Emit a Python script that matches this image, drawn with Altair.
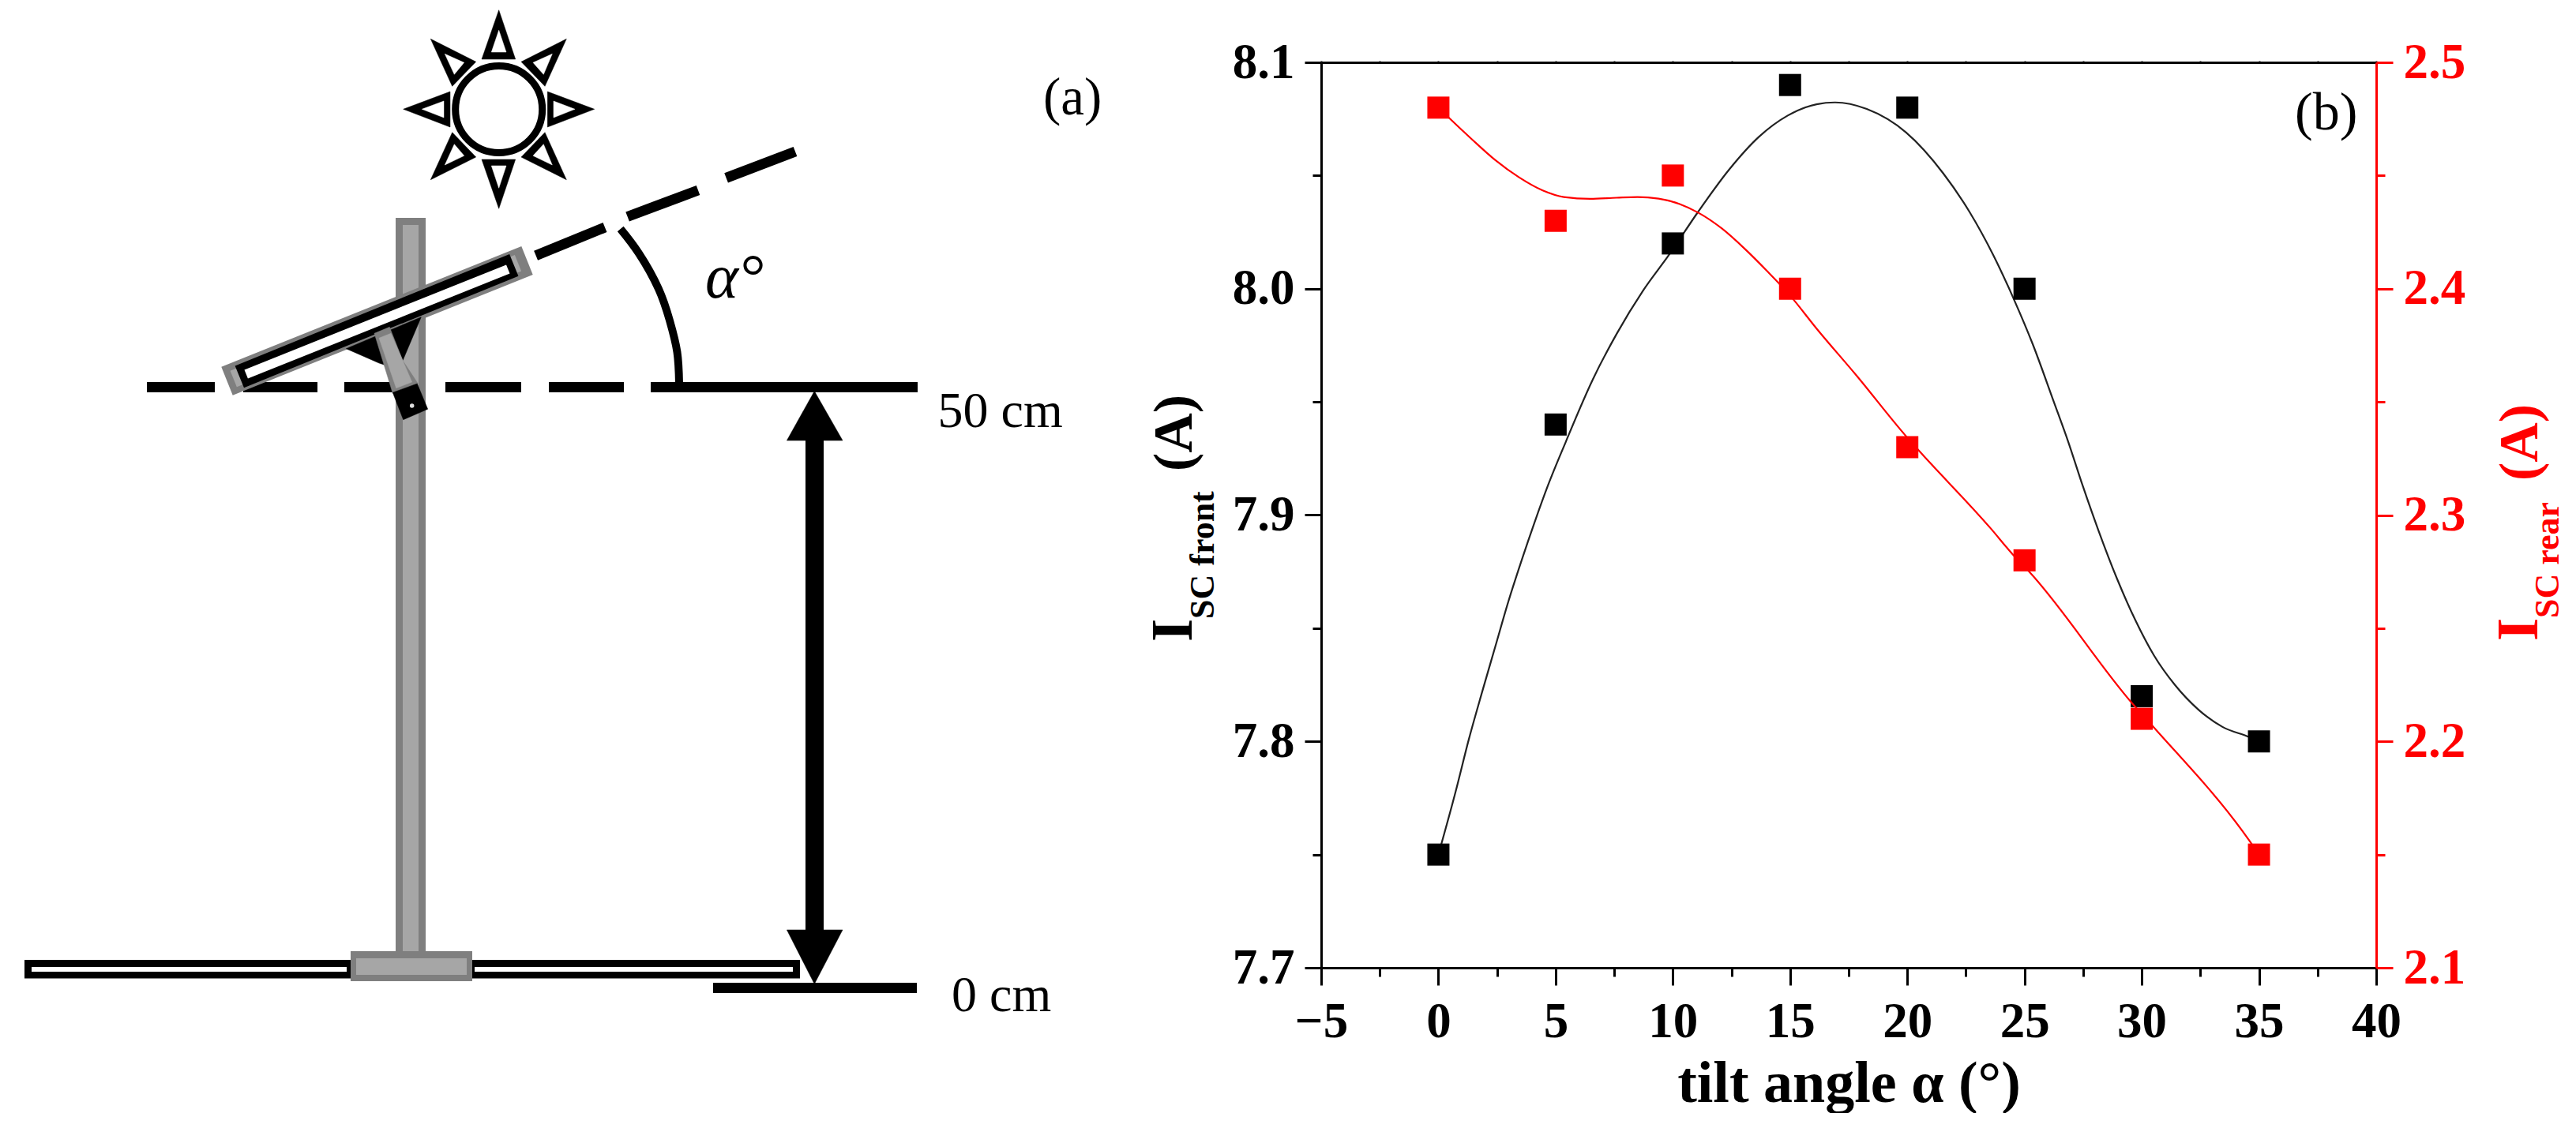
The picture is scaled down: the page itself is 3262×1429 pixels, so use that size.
import altair as alt
import pandas as pd

# ---------- panel (b) values ----------
tilt = [0, 5, 10, 15, 20, 25, 30, 35]
isc_front = [7.75, 7.94, 8.02, 8.09, 8.08, 8.00, 7.82, 7.80]
isc_rear = [2.48, 2.43, 2.45, 2.40, 2.33, 2.28, 2.21, 2.15]

front_curve_x = [0, 0.74, 1.30, 1.87, 2.43, 2.99, 3.55, 4.11, 4.67, 5.44, 6.59, 7.60, 8.72, 9.84, 11.08, 12.43, 13.66,
                 14.90, 16.13, 16.92, 18.27, 19.95, 21.53, 22.65, 23.66, 24.56, 25.35, 26.25, 26.86, 27.48, 28.16,
                 28.94, 29.73, 30.52, 31.41, 32.42, 33.43, 34.56, 35]
front_curve_y = [7.75, 7.778, 7.801, 7.822, 7.842, 7.862, 7.880, 7.897, 7.913, 7.9325, 7.960, 7.980, 7.999, 8.015,
                 8.034, 8.053, 8.067, 8.0765, 8.0815, 8.0823, 8.0794, 8.069, 8.051, 8.034, 8.015, 7.995, 7.9755, 7.950,
                 7.9325, 7.913, 7.893, 7.872, 7.8535, 7.838, 7.825, 7.814, 7.8065, 7.802, 7.80]
rear_curve_x = [0, 0.46, 1.42, 2.43, 3.44, 4.45, 5.35, 6.47, 7.60, 8.49, 9.39, 10.29, 11.08, 12.09, 13.10, 14.0, 15,
                16.13, 17.82, 20, 20.5, 23.55, 24.5, 25.2, 29.62, 30.53, 34.6, 35]
rear_curve_y = [2.48, 2.4754, 2.4661, 2.4568, 2.4492, 2.4434, 2.4405, 2.4397, 2.4402, 2.4405, 2.4398, 2.4374, 2.4336,
                2.4266, 2.4173, 2.408, 2.397, 2.3824, 2.3618, 2.3342, 2.3284, 2.2942, 2.2826, 2.275, 2.2165, 2.206,
                2.156, 2.15]

x_ticks = [-5, -2.5, 0, 2.5, 5, 7.5, 10, 12.5, 15, 17.5, 20, 22.5, 25, 27.5, 30, 32.5, 35, 37.5, 40]
front_ticks = [7.7, 7.75, 7.8, 7.85, 7.9, 7.95, 8.0, 8.05, 8.1]
rear_ticks = [2.1, 2.15, 2.2, 2.25, 2.3, 2.35, 2.4, 2.45, 2.5]

# ---------- panel (a) shapes, in picture pixels ----------
GRAY_D, GRAY_L = "#7f7f7f", "#a6a6a6"
dash_h = [(186, 272), (308, 402), (436, 532), (564, 660), (695, 790), (824, 1162)]
dash_tilt = [((678.6, 323.7), (766, 288)), ((794.6, 274.5), (884, 241)), ((919.6, 225.4), (1007, 192))]
arc_x = [785.7, 809, 834, 848, 857.5, 860]
arc_y = [290, 321, 366, 406, 446, 486]

sun_center = (631.7, 138.5)
rays_outer = [
    [(631.7, 12.7), (652.7, 75), (610, 75)],
    [(631.7, 264.3), (652.7, 202), (610, 202)],
    [(510.7, 138.3), (570, 116), (570, 161)],
    [(752.7, 138.3), (693.3, 116), (693.3, 161)],
    [(717.3, 49.3), (660, 78.3), (690, 109.3)],
    [(545.3, 49.3), (602.7, 78.3), (572.7, 109.3)],
    [(545.3, 227.7), (602.7, 199), (572.7, 167.7)],
    [(717.3, 227.7), (660, 199), (690, 167.7)],
]
rays_inner = [
    [(631.7, 38.3), (641, 66), (622.3, 66)],
    [(631.7, 238.3), (641, 210), (622.3, 210)],
    [(534.3, 138.3), (562, 128), (562, 149)],
    [(728, 138.3), (701, 128), (701, 149)],
    [(699.3, 68.3), (675, 79.3), (688.3, 94.3)],
    [(563.3, 68.3), (587.7, 79.3), (575.3, 94.3)],
    [(563.3, 209), (587.7, 197.3), (575.3, 182.7)],
    [(699.3, 209), (675, 197.3), (688.3, 182.7)],
]
module_outer = ((287.5, 482.7), (667.5, 330))
module_light = ((295.7, 480), (656, 333.3))
module_black = ((303.3, 477.4), (650.8, 335.8))
module_white = ((311.7, 474), (643.3, 341))
bracket_black = [(438.3, 441.7), (533.3, 401.7), (510, 456.7), (490, 463.3), (480, 460)]
arm_dark = [(474, 422.3), (493.3, 414.3), (510, 456.7), (529.3, 486), (497.3, 498.3)]
arm_light = [(480, 428.3), (495, 422.3), (510, 456.7), (521.7, 484), (501.7, 491.7)]
hinge = [(497.3, 497.3), (528.3, 486), (541.7, 518.3), (510.7, 531.7)]
hinge_dot = (521.7, 514)
head_up = [(1031.3, 495.5), (1067, 558), (996.4, 558)]
head_down = [(1031.3, 1246.5), (1067, 1178), (996.4, 1178)]

H = 1147
W1 = 1665
PLOT_W = 1336
FONT = "Liberation Serif"

sx = alt.Scale(domain=[8, 8 + W1], nice=False, zero=False)
sy = alt.Scale(domain=[79 + H, 79], nice=False, zero=False)
PX = alt.X("x:Q", scale=sx, axis=None)
PY = alt.Y("y:Q", scale=sy, axis=None)


def rect(x0, x1, y0, y1, color):
    d = pd.DataFrame({"x": [x0], "x2": [x1], "y": [y0], "y2": [y1]})
    return alt.Chart(d).mark_rect(color=color, stroke=None).encode(PX, alt.X2("x2:Q"), PY, alt.Y2("y2:Q"))


def seg(pts, color, width, interpolate="linear"):
    d = pd.DataFrame({"x": [p[0] for p in pts], "y": [p[1] for p in pts], "i": list(range(len(pts)))})
    return alt.Chart(d).mark_line(color=color, strokeWidth=width, strokeCap="butt", interpolate=interpolate).encode(
        PX, PY, order="i:Q")


def poly(pts, color):
    closed = list(pts) + [pts[0]]
    d = pd.DataFrame({"x": [p[0] for p in closed], "y": [p[1] for p in closed], "i": list(range(len(closed)))})
    return alt.Chart(d).mark_line(color=color, fill=color, stroke=color, strokeWidth=0.5).encode(PX, PY, order="i:Q")


def label(x, y, s, size, style="normal"):
    d = pd.DataFrame({"x": [x], "y": [y], "t": [s]})
    return alt.Chart(d).mark_text(font=FONT, fontSize=size, fontStyle=style, align="left", baseline="alphabetic",
                                  color="black").encode(PX, PY, text="t:N")


parts = [rect(8, 10, 8, 10, "white")]
parts += [rect(a, b, 484, 497, "black") for a, b in dash_h]
parts += [seg(s, "black", 13) for s in dash_tilt]
parts.append(seg(list(zip(arc_x, arc_y)), "black", 10, "natural"))
# ground module and post
parts += [rect(31, 1013, 1216, 1239.5, "black"), rect(40, 439, 1225, 1231, "white"), rect(601, 1004, 1225, 1231, "white")]
parts += [rect(501, 539, 276, 1210, GRAY_D), rect(510, 530, 285, 1210, GRAY_L)]
parts += [rect(444, 598, 1205, 1243, GRAY_D), rect(451, 591, 1214, 1235, GRAY_L)]
# tilted module
parts += [seg(module_outer, GRAY_D, 38.7), seg(module_light, GRAY_L, 22), seg(module_black, "black", 30),
          seg(module_white, "white", 12)]
parts += [poly(bracket_black, "black"), poly(arm_dark, GRAY_D), poly(arm_light, GRAY_L), poly(hinge, "black")]
parts.append(alt.Chart(pd.DataFrame({"x": [hinge_dot[0]], "y": [hinge_dot[1]]})).mark_point(
    filled=True, color="#dddddd", size=30, opacity=1).encode(PX, PY))
# sun
parts.append(alt.Chart(pd.DataFrame({"x": [sun_center[0]], "y": [sun_center[1]]})).mark_point(
    shape="circle", filled=False, color="black", strokeWidth=9, size=12100, opacity=1).encode(PX, PY))
for o, i in zip(rays_outer, rays_inner):
    parts += [poly(o, "black"), poly(i, "white")]
# height arrow
parts += [rect(1020, 1043, 555, 1181, "black"), poly(head_up, "black"), poly(head_down, "black")]
parts.append(rect(903, 1161, 1245, 1258, "black"))
# texts
parts += [label(1187.5, 541, "50 cm", 64), label(1205, 1281, "0 cm", 64), label(1321, 145, "(a)", 67),
          label(893, 377, "α°", 80, "italic")]

left = alt.layer(*parts).properties(width=W1, height=H)

# ---------- panel (b) ----------
XS = alt.Scale(domain=[-5, 40], nice=False, zero=False)
FS = alt.Scale(domain=[7.7, 8.1], nice=False, zero=False)
RS = alt.Scale(domain=[2.1, 2.5], nice=False, zero=False)
major = "abs(datum.value*10-round(datum.value*10))<0.001"
x_major = "abs(datum.value/5-round(datum.value/5))<0.001"
common = dict(grid=False, labelFont=FONT, labelFontSize=63, labelFontWeight="bold", domainWidth=3, tickWidth=3,
              labelOverlap=False, labelFlush=False, labelBound=False)

x_axis = alt.Axis(values=x_ticks, title="tilt angle α (°)", titleFont=FONT, titleFontSize=74, titleFontWeight="bold",
                  titleColor="black", titlePadding=11, labelPadding=15, domainColor="black", tickColor="black",
                  labelColor="black", labelExpr=f"{x_major} ? format(datum.value,'d') : ''",
                  tickSize={"condition": {"test": x_major, "value": 22}, "value": 11}, **common)
x_top = alt.Axis(values=x_ticks, orient="top", title=None, labels=False, tickSize=2, domainColor="black",
                 tickColor="black", domainWidth=3, tickWidth=2, grid=False)
y_front = alt.Axis(values=front_ticks, title=None, orient="left", labelPadding=13, domainColor="black",
                   tickColor="black", labelColor="black", labelExpr=f"{major} ? format(datum.value,'.1f') : ''",
                   tickSize={"condition": {"test": major, "value": 21}, "value": 11}, **common)
y_rear = alt.Axis(values=rear_ticks, title=None, orient="right", labelPadding=13, domainColor="#ff0000",
                  tickColor="#ff0000", labelColor="#ff0000", labelExpr=f"{major} ? format(datum.value,'.1f') : ''",
                  tickSize={"condition": {"test": major, "value": 21}, "value": 11}, **common)

pts_f = pd.DataFrame({"tilt": tilt, "front": isc_front})
pts_r = pd.DataFrame({"tilt": tilt, "rear": isc_rear})
cur_f = pd.DataFrame({"tilt": front_curve_x, "front": front_curve_y})
cur_r = pd.DataFrame({"tilt": rear_curve_x, "rear": rear_curve_y})


def txt(px, py, s, size, color, angle=270, weight="bold"):
    d = pd.DataFrame({"t": [s]})
    return alt.Chart(d).mark_text(font=FONT, fontSize=size, fontWeight=weight, angle=angle, align="left",
                                  baseline="alphabetic", color=color).encode(
        x=alt.value(px - 1673), y=alt.value(py - 79), text="t:N")


black_group = alt.layer(
    alt.Chart(cur_f).mark_line(color="#222222", strokeWidth=2.2, interpolate="monotone").encode(
        alt.X("tilt:Q", scale=XS, axis=x_axis), alt.Y("front:Q", scale=FS, axis=y_front)),
    alt.Chart(pts_f).mark_square(color="black", size=784, opacity=1).encode(
        alt.X("tilt:Q", scale=XS, axis=x_axis), alt.Y("front:Q", scale=FS, axis=y_front)),
    txt(1509, 813, "I", 75, "black"), txt(1537, 784, "SC front", 44, "black"), txt(1509, 597, "(A)", 70, "black"),
    txt(2906, 164, "(b)", 68, "black", angle=0, weight="normal"),
)
red_group = alt.layer(
    alt.Chart(cur_r).mark_line(color="#ff0000", strokeWidth=2.2, interpolate="monotone").encode(
        alt.X("tilt:Q", scale=XS, axis=x_top), alt.Y("rear:Q", scale=RS, axis=y_rear)),
    alt.Chart(pts_r).mark_square(color="#ff0000", size=784, opacity=1).encode(
        alt.X("tilt:Q", scale=XS, axis=x_top), alt.Y("rear:Q", scale=RS, axis=y_rear)),
    txt(3213, 812, "I", 75, "#ff0000"), txt(3240, 783, "SC rear", 44, "#ff0000"), txt(3213, 609, "(A)", 70, "#ff0000"),
)
right = alt.layer(black_group, red_group).resolve_scale(y="independent").resolve_axis(
    x="independent", y="independent").properties(width=PLOT_W, height=H)

chart = alt.hconcat(left, right, spacing=0, bounds="flush", padding=0).configure_view(stroke=None)
chart.save("out.html", embed_options={"renderer": "svg", "actions": False})
